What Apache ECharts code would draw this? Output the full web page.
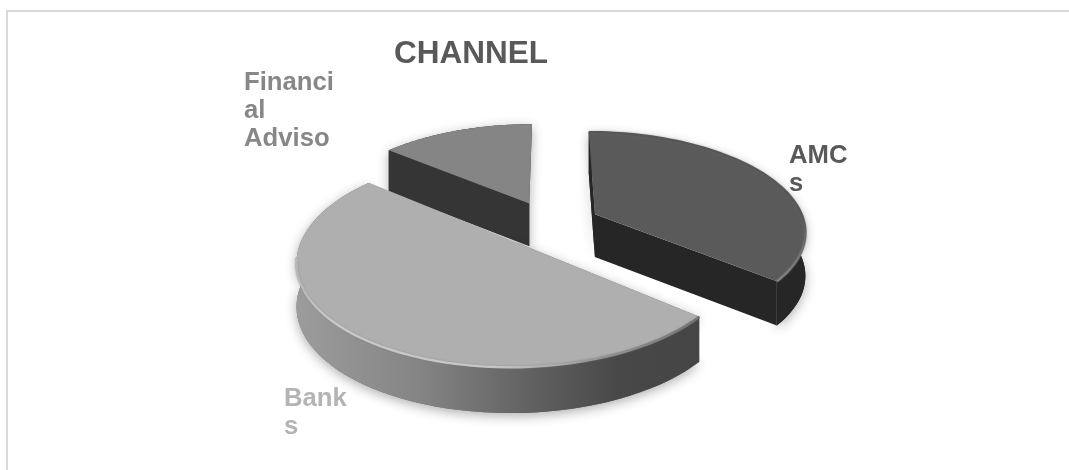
<!DOCTYPE html>
<html>
<head>
<meta charset="utf-8">
<style>html,body{margin:0;padding:0;background:#fff}#main{width:1069px;height:470px}</style>
<script src="https://cdn.jsdelivr.net/npm/echarts@6/dist/echarts.min.js"></script>
</head>
<body>
<div id="main"></div>
<script>
// Channel split, clockwise from twelve o'clock
const categories = ['AMCs', 'Banks', 'Financial Advisors'];
const shares = [36, 50, 14];
const labelLines = ['AMC\ns', 'Bank\ns', 'Financi\nal\nAdviso'];
const chartTitle = 'CHANNEL';

// Tilted, slightly foreshortened view of the pie
const view = { cx: 550, cy: 224, rx: 210, ry: 98, persp: 0.16, depth: 43, explode: 0.24 };

// Appearance per slice, same order as categories
const looks = [
  {
    top: '#5a5a5a', wall: '#262626', arc: '#262626', outerWall: true,
    rim: { dir: [0, 0, 0, 1], part: 1, stops: [[0, '#565656'], [0.55, '#565656'], [0.75, '#6e6e6e'], [1, '#828282']], width: 2.5 },
    text: '#595959', at: [789, 163], startWall: true, endWall: true
  },
  {
    top: '#afafaf', wall: '#6a6a6a', arc: null, outerWall: true,
    rim: { dir: [0, 0, 1, 0], part: 0.74, stops: [[0, '#b6b6b6'], [0.1, '#c8c8c8'], [0.5, '#c4c4c4'], [0.75, '#949494'], [1, '#727272']], width: 2.5 },
    text: '#b4b4b4', at: [284, 406], startWall: false, endWall: false
  },
  {
    top: '#858585', wall: '#353535', arc: null, outerWall: false,
    rim: null,
    text: '#878787', at: [244, 90], startWall: true, endWall: false
  }
];
const drawOrder = [2, 0, 1];
const LINE_HEIGHT = 28;

const total = shares.reduce((a, b) => a + b, 0);
const starts = [];
shares.reduce((acc, v, i) => { starts[i] = acc; return acc + v; }, 0);

// Near parts of the wall read a little taller than far parts
function project(X, Y, lowered) {
  const w = 1 + view.persp * Y;
  const drop = lowered ? view.depth * Math.pow(1 / w, 0.3) : 0;
  return [view.cx + view.rx * X / w, view.cy - view.ry * Y / w + drop];
}

function sliceShapes(i) {
  const a0 = starts[i] / total * 2 * Math.PI;
  const a1 = (starts[i] + shares[i]) / total * 2 * Math.PI;
  const mid = (a0 + a1) / 2;
  const ox = Math.sin(mid) * view.explode;
  const oy = Math.cos(mid) * view.explode;
  const rimPt = (a, low) => project(ox + Math.sin(a), oy + Math.cos(a), low);
  const steps = 64;
  const arcTop = [], arcLow = [];
  for (let s = 0; s <= steps; s++) {
    const a = a0 + (a1 - a0) * s / steps;
    arcTop.push(rimPt(a, false));
    arcLow.push(rimPt(a, true));
  }
  return { arcTop, arcLow, apexTop: project(ox, oy, false), apexLow: project(ox, oy, true) };
}

function renderSlice(params, api) {
  const i = drawOrder[api.value(0)];
  const look = looks[i];
  const g = sliceShapes(i);
  const children = [];
  const n = g.arcTop.length - 1;

  // soft cast shadow under the slice
  const outline = look.outerWall
    ? [g.apexLow].concat(g.arcLow, g.arcTop.slice().reverse(), [g.apexTop])
    : [g.apexLow, g.arcLow[0]].concat(g.arcTop, [g.apexTop]);
  children.push({
    type: 'polygon', shape: { points: outline },
    style: { fill: look.wall, shadowBlur: 12, shadowColor: 'rgba(0,0,0,0.32)', shadowOffsetY: 3 }
  });

  if (look.outerWall) {
    const bankSide = new echarts.graphic.LinearGradient(0, 0, 1, 0, [
      { offset: 0, color: '#9c9c9c' }, { offset: 0.3, color: '#858585' },
      { offset: 0.6, color: '#5f5f5f' }, { offset: 0.8, color: '#484848' }, { offset: 1, color: '#454545' }
    ]);
    children.push({
      type: 'polygon',
      shape: { points: g.arcTop.concat(g.arcLow.slice().reverse()) },
      style: { fill: look.arc || bankSide }
    });
  }
  if (look.startWall) {
    children.push({
      type: 'polygon',
      shape: { points: [g.apexTop, g.arcTop[0], g.arcLow[0], g.apexLow] },
      style: { fill: look.wall }
    });
  }
  if (look.endWall) {
    children.push({
      type: 'polygon',
      shape: { points: [g.apexTop, g.arcTop[n], g.arcLow[n], g.apexLow] },
      style: { fill: look.wall }
    });
  }
  children.push({
    type: 'polygon',
    shape: { points: [g.apexTop].concat(g.arcTop) },
    style: { fill: look.top }
  });
  if (look.rim) {
    const d = look.rim.dir;
    const rimGrad = new echarts.graphic.LinearGradient(d[0], d[1], d[2], d[3],
      look.rim.stops.map(s => ({ offset: s[0], color: s[1] })));
    children.push({
      type: 'polyline',
      shape: { points: g.arcTop.slice(0, Math.round(n * look.rim.part) + 1) },
      style: { fill: null, stroke: rimGrad, lineWidth: look.rim.width, shadowBlur: 2, shadowColor: 'rgba(110,110,110,0.5)' }
    });
  }
  children.push({
    type: 'text',
    style: {
      text: labelLines[i], x: look.at[0], y: look.at[1] - 21,
      fill: look.text, font: 'bold 25.7px "Liberation Sans", Arial, sans-serif',
      lineHeight: LINE_HEIGHT, align: 'left', verticalAlign: 'top'
    }
  });
  return { type: 'group', children };
}

const chart = echarts.init(document.getElementById('main'), null, { renderer: 'canvas' });
chart.setOption({
  animation: false,
  backgroundColor: '#ffffff',
  title: {
    text: chartTitle, left: 389, top: 33,
    textStyle: { color: '#595959', fontSize: 31.5, fontWeight: 'bold', fontFamily: '"Liberation Sans", Arial, sans-serif' }
  },
  graphic: [
    { type: 'line', silent: true, shape: { x1: 6, y1: 11, x2: 1069, y2: 11 }, style: { stroke: '#d9d9d9', lineWidth: 2 } },
    { type: 'line', silent: true, shape: { x1: 7, y1: 10, x2: 7, y2: 470 }, style: { stroke: '#d9d9d9', lineWidth: 2 } }
  ],
  series: [{
    type: 'custom',
    coordinateSystem: 'none',
    silent: true,
    renderItem: renderSlice,
    data: drawOrder.map((d, k) => [k, shares[d], categories[d]])
  }]
});
</script>
</body>
</html>
